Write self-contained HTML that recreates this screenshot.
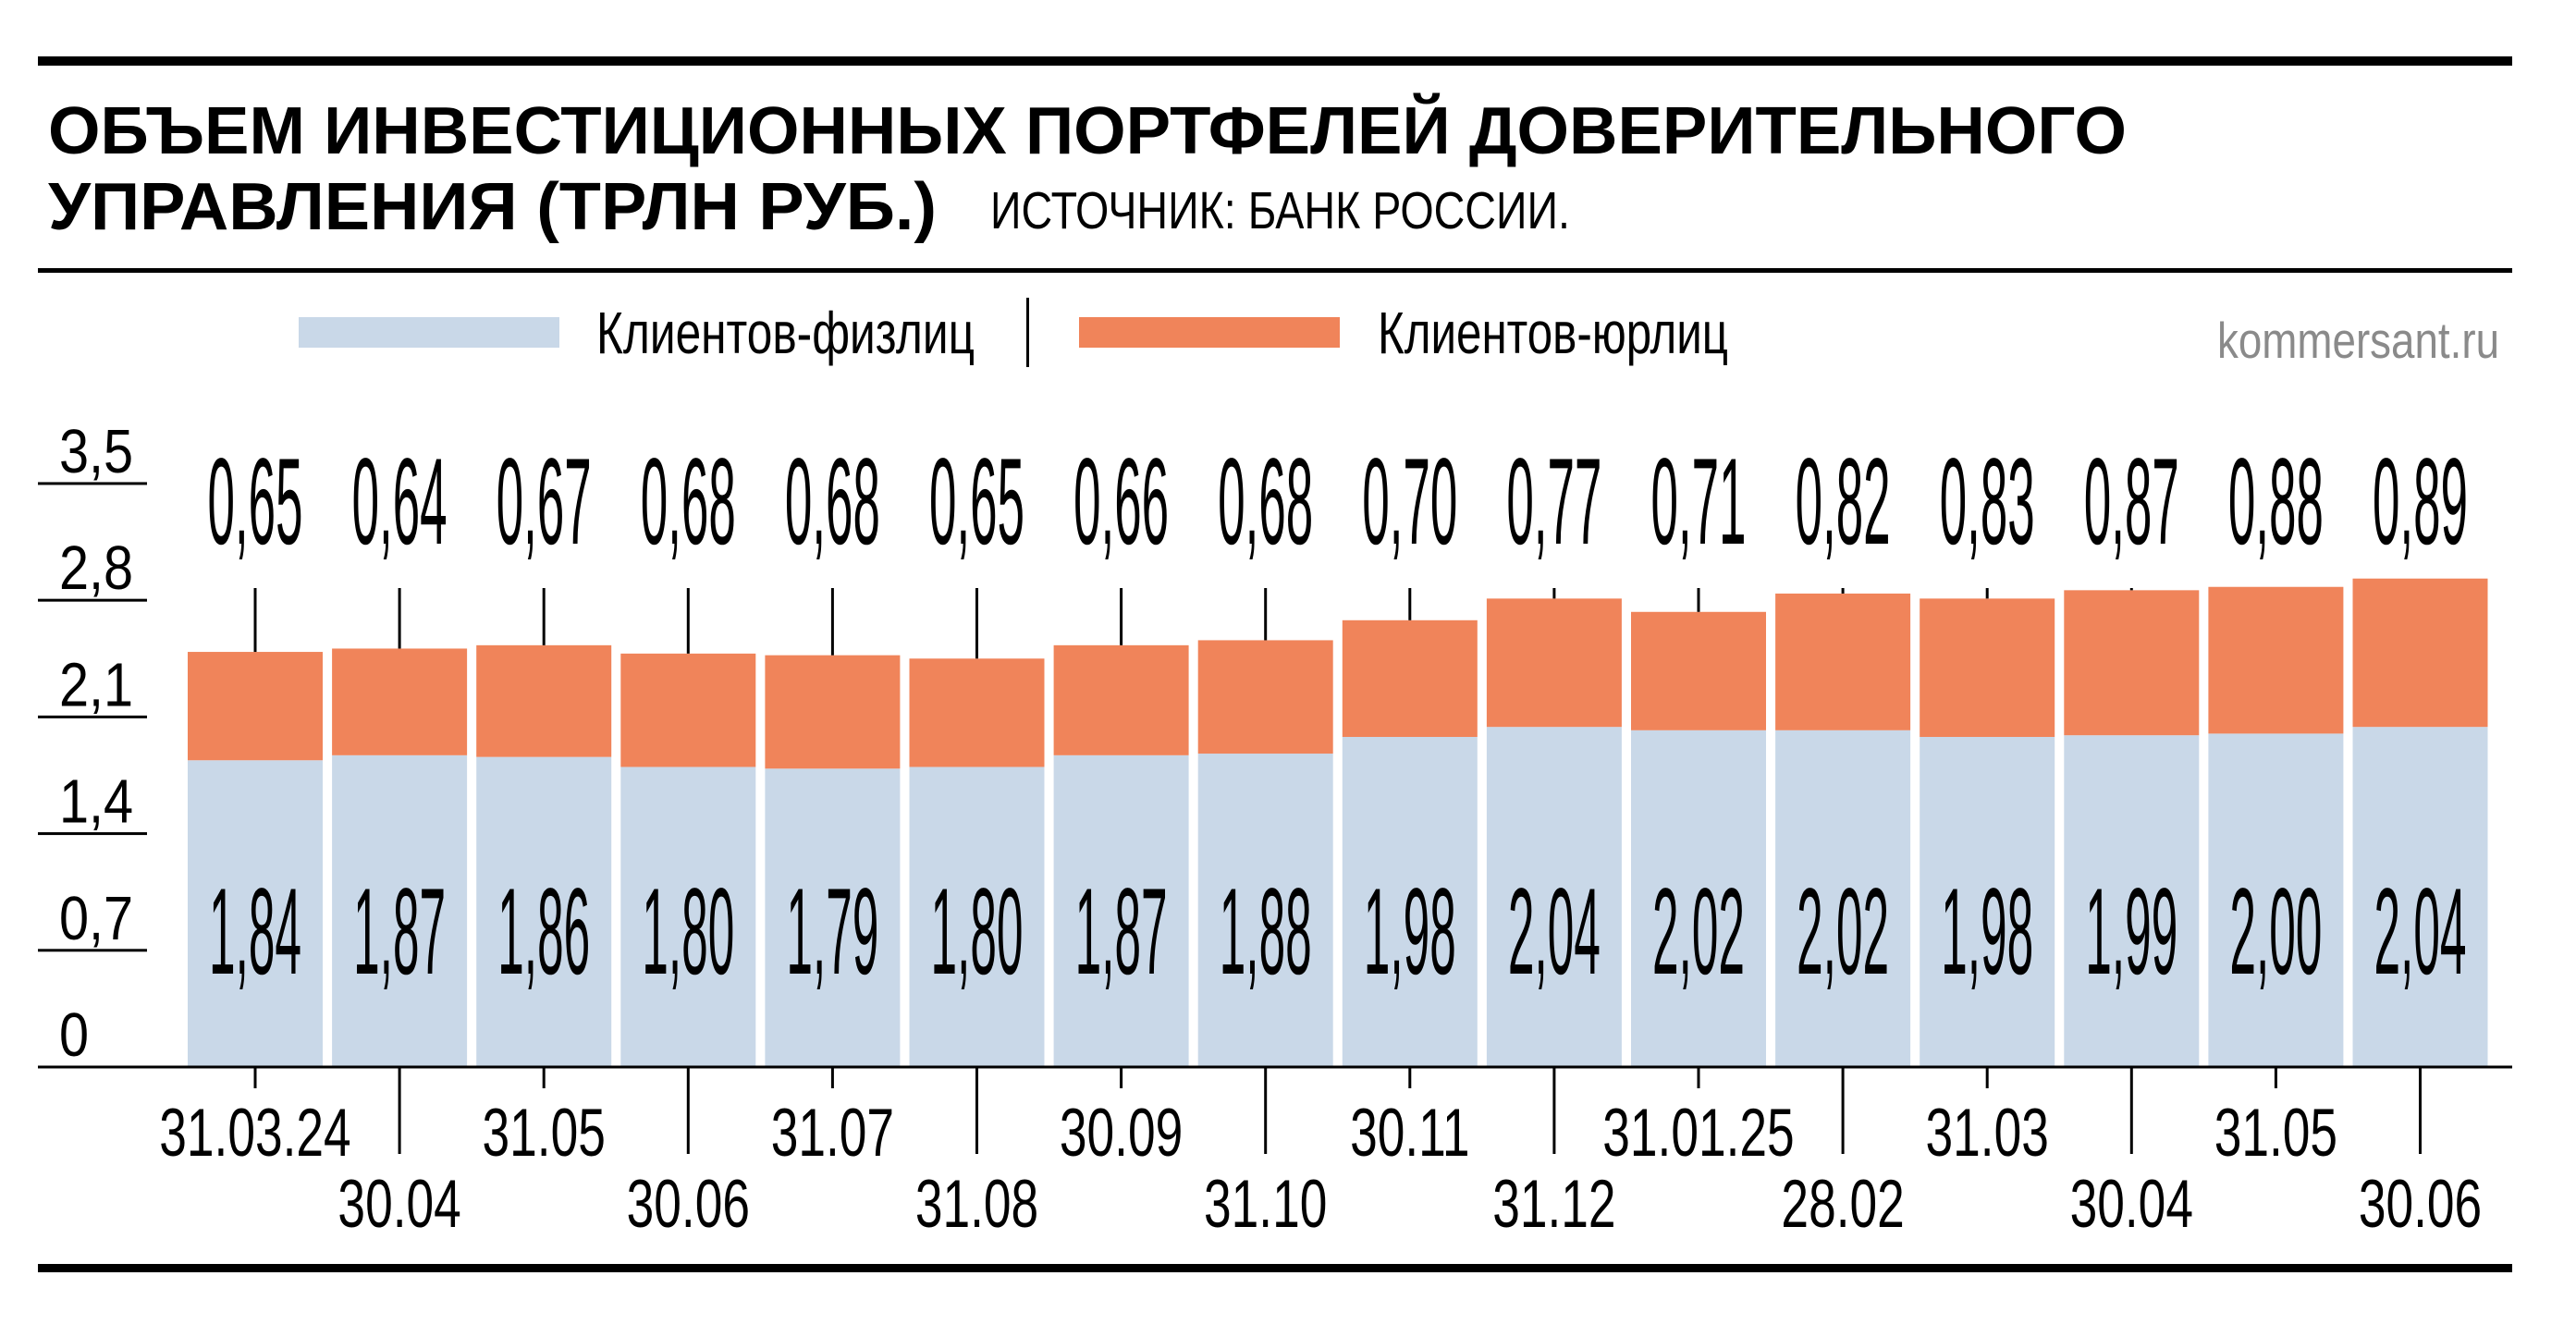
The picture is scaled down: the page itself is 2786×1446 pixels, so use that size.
<!DOCTYPE html>
<html><head><meta charset="utf-8"><style>
html,body{margin:0;padding:0;background:#fff;}
svg{display:block;}
text{font-family:"Liberation Sans","DejaVu Sans",sans-serif;}
</style></head><body>
<svg id="chart" width="2786" height="1446" viewBox="0 0 2786 1446" xmlns="http://www.w3.org/2000/svg">
<rect x="0" y="0" width="2786" height="1446" fill="#fff"/>
<rect x="41" y="61" width="2676" height="10" fill="#000"/>
<text x="52" y="166" font-size="72" font-weight="bold" textLength="2248" lengthAdjust="spacingAndGlyphs">ОБЪЕМ ИНВЕСТИЦИОННЫХ ПОРТФЕЛЕЙ ДОВЕРИТЕЛЬНОГО</text>
<text x="52" y="248" font-size="72" font-weight="bold" textLength="961" lengthAdjust="spacingAndGlyphs">УПРАВЛЕНИЯ (ТРЛН РУБ.)</text>
<text x="1071" y="247" font-size="57" textLength="627" lengthAdjust="spacingAndGlyphs">ИСТОЧНИК: БАНК РОССИИ.</text>
<rect x="41" y="290" width="2676" height="5" fill="#000"/>
<g>
<rect x="323" y="343" width="282" height="33" fill="#c9d8e8"/>
<text x="645" y="382" font-size="64" textLength="409" lengthAdjust="spacingAndGlyphs">Клиентов-физлиц</text>
<rect x="1110" y="322" width="3" height="75" fill="#000"/>
<rect x="1167" y="343" width="282" height="33" fill="#f0845a"/>
<text x="1490" y="382" font-size="64" textLength="379" lengthAdjust="spacingAndGlyphs">Клиентов-юрлиц</text>
</g>
<text x="2398" y="387" font-size="55" fill="#8a8a8a" textLength="305" lengthAdjust="spacingAndGlyphs">kommersant.ru</text>
<g id="yaxis"></g>
<g id="bars"></g>
<g id="xaxis"></g>
<rect x="41" y="1367" width="2676" height="9" fill="#000"/>
</svg>
<script>
const categories = ["31.03.24","30.04","31.05","30.06","31.07","31.08","30.09","31.10","30.11","31.12","31.01.25","28.02","31.03","30.04","31.05","30.06"];
const individuals = [1.84,1.87,1.86,1.80,1.79,1.80,1.87,1.88,1.98,2.04,2.02,2.02,1.98,1.99,2.00,2.04];
const legalEntities = [0.65,0.64,0.67,0.68,0.68,0.65,0.66,0.68,0.70,0.77,0.71,0.82,0.83,0.87,0.88,0.89];
const yTicks = [0,0.7,1.4,2.1,2.8,3.5];
const yTickLabels = ["0","0,7","1,4","2,1","2,8","3,5"];

const NS = "http://www.w3.org/2000/svg";
const baseY = 1154, pxPerUnit = 180.3;
const x0 = 203, pitch = 156.1, barW = 146;
function yScale(v){ return baseY - v * pxPerUnit; }
function xLeft(i){ return x0 + i * pitch; }
function xCenter(i){ return xLeft(i) + barW / 2; }
function fmt(v){ return v.toFixed(2).replace('.', ','); }
function mk(tag, attrs, parent){
  const e = document.createElementNS(NS, tag);
  for (const k in attrs) e.setAttribute(k, attrs[k]);
  parent.appendChild(e);
  return e;
}
const yG = document.getElementById('yaxis');
const barsG = document.getElementById('bars');
const xG = document.getElementById('xaxis');

yTicks.forEach((t, i) => {
  const y = yScale(t);
  if (t > 0) {
    const ln = mk('rect', {x: 41, y: y - 1.5, width: 118, height: 3, fill: '#000'}, yG);
    
    
  }
  const tx = mk('text', {x: 64, y: y - 12, 'font-size': 67, transform: `translate(64,0) scale(0.86,1) translate(-64,0)`}, yG);
  
  
  tx.textContent = yTickLabels[i];
});

categories.forEach((c, i) => {
  const l = xLeft(i), cx = xCenter(i);
  const yInd = yScale(individuals[i]);
  const yTot = yScale(individuals[i] + legalEntities[i]);
  const b1 = mk('rect', {x: l, y: yInd, width: barW, height: baseY - yInd, fill: '#c9d8e8'}, barsG);
  
  
  const b2 = mk('rect', {x: l, y: yTot, width: barW, height: yInd - yTot, fill: '#f0845a'}, barsG);
  
  
  if (yTot > 636) {
    const ld = mk('rect', {x: cx - 1.5, y: 636, width: 3, height: yTot - 636, fill: '#000'}, barsG);
    
    
  }
  const tl = mk('text', {x: cx, y: 588, 'font-size': 133, 'text-anchor': 'middle', textLength: 103, lengthAdjust: 'spacingAndGlyphs'}, barsG);
  
  
  tl.textContent = fmt(legalEntities[i]);
  const il = mk('text', {x: cx, y: 1053, 'font-size': 133, 'text-anchor': 'middle', textLength: 100, lengthAdjust: 'spacingAndGlyphs'}, barsG);
  
  
  il.textContent = fmt(individuals[i]);

  const odd = i % 2 === 1;
  const tk = mk('rect', {x: cx - 1.5, y: baseY, width: 3, height: odd ? 94 : 23, fill: '#000'}, xG);
  
  
  const xl = mk('text', {x: cx, y: odd ? 1327 : 1250, 'font-size': 73, 'text-anchor': 'middle', transform: `translate(${cx},0) scale(0.73,1) translate(${-cx},0)`}, xG);
  
  
  xl.textContent = c;
});
const axis = mk('rect', {x: 41, y: baseY - 1.5, width: 2676, height: 3, fill: '#000'}, xG);


</script>
</body></html>
